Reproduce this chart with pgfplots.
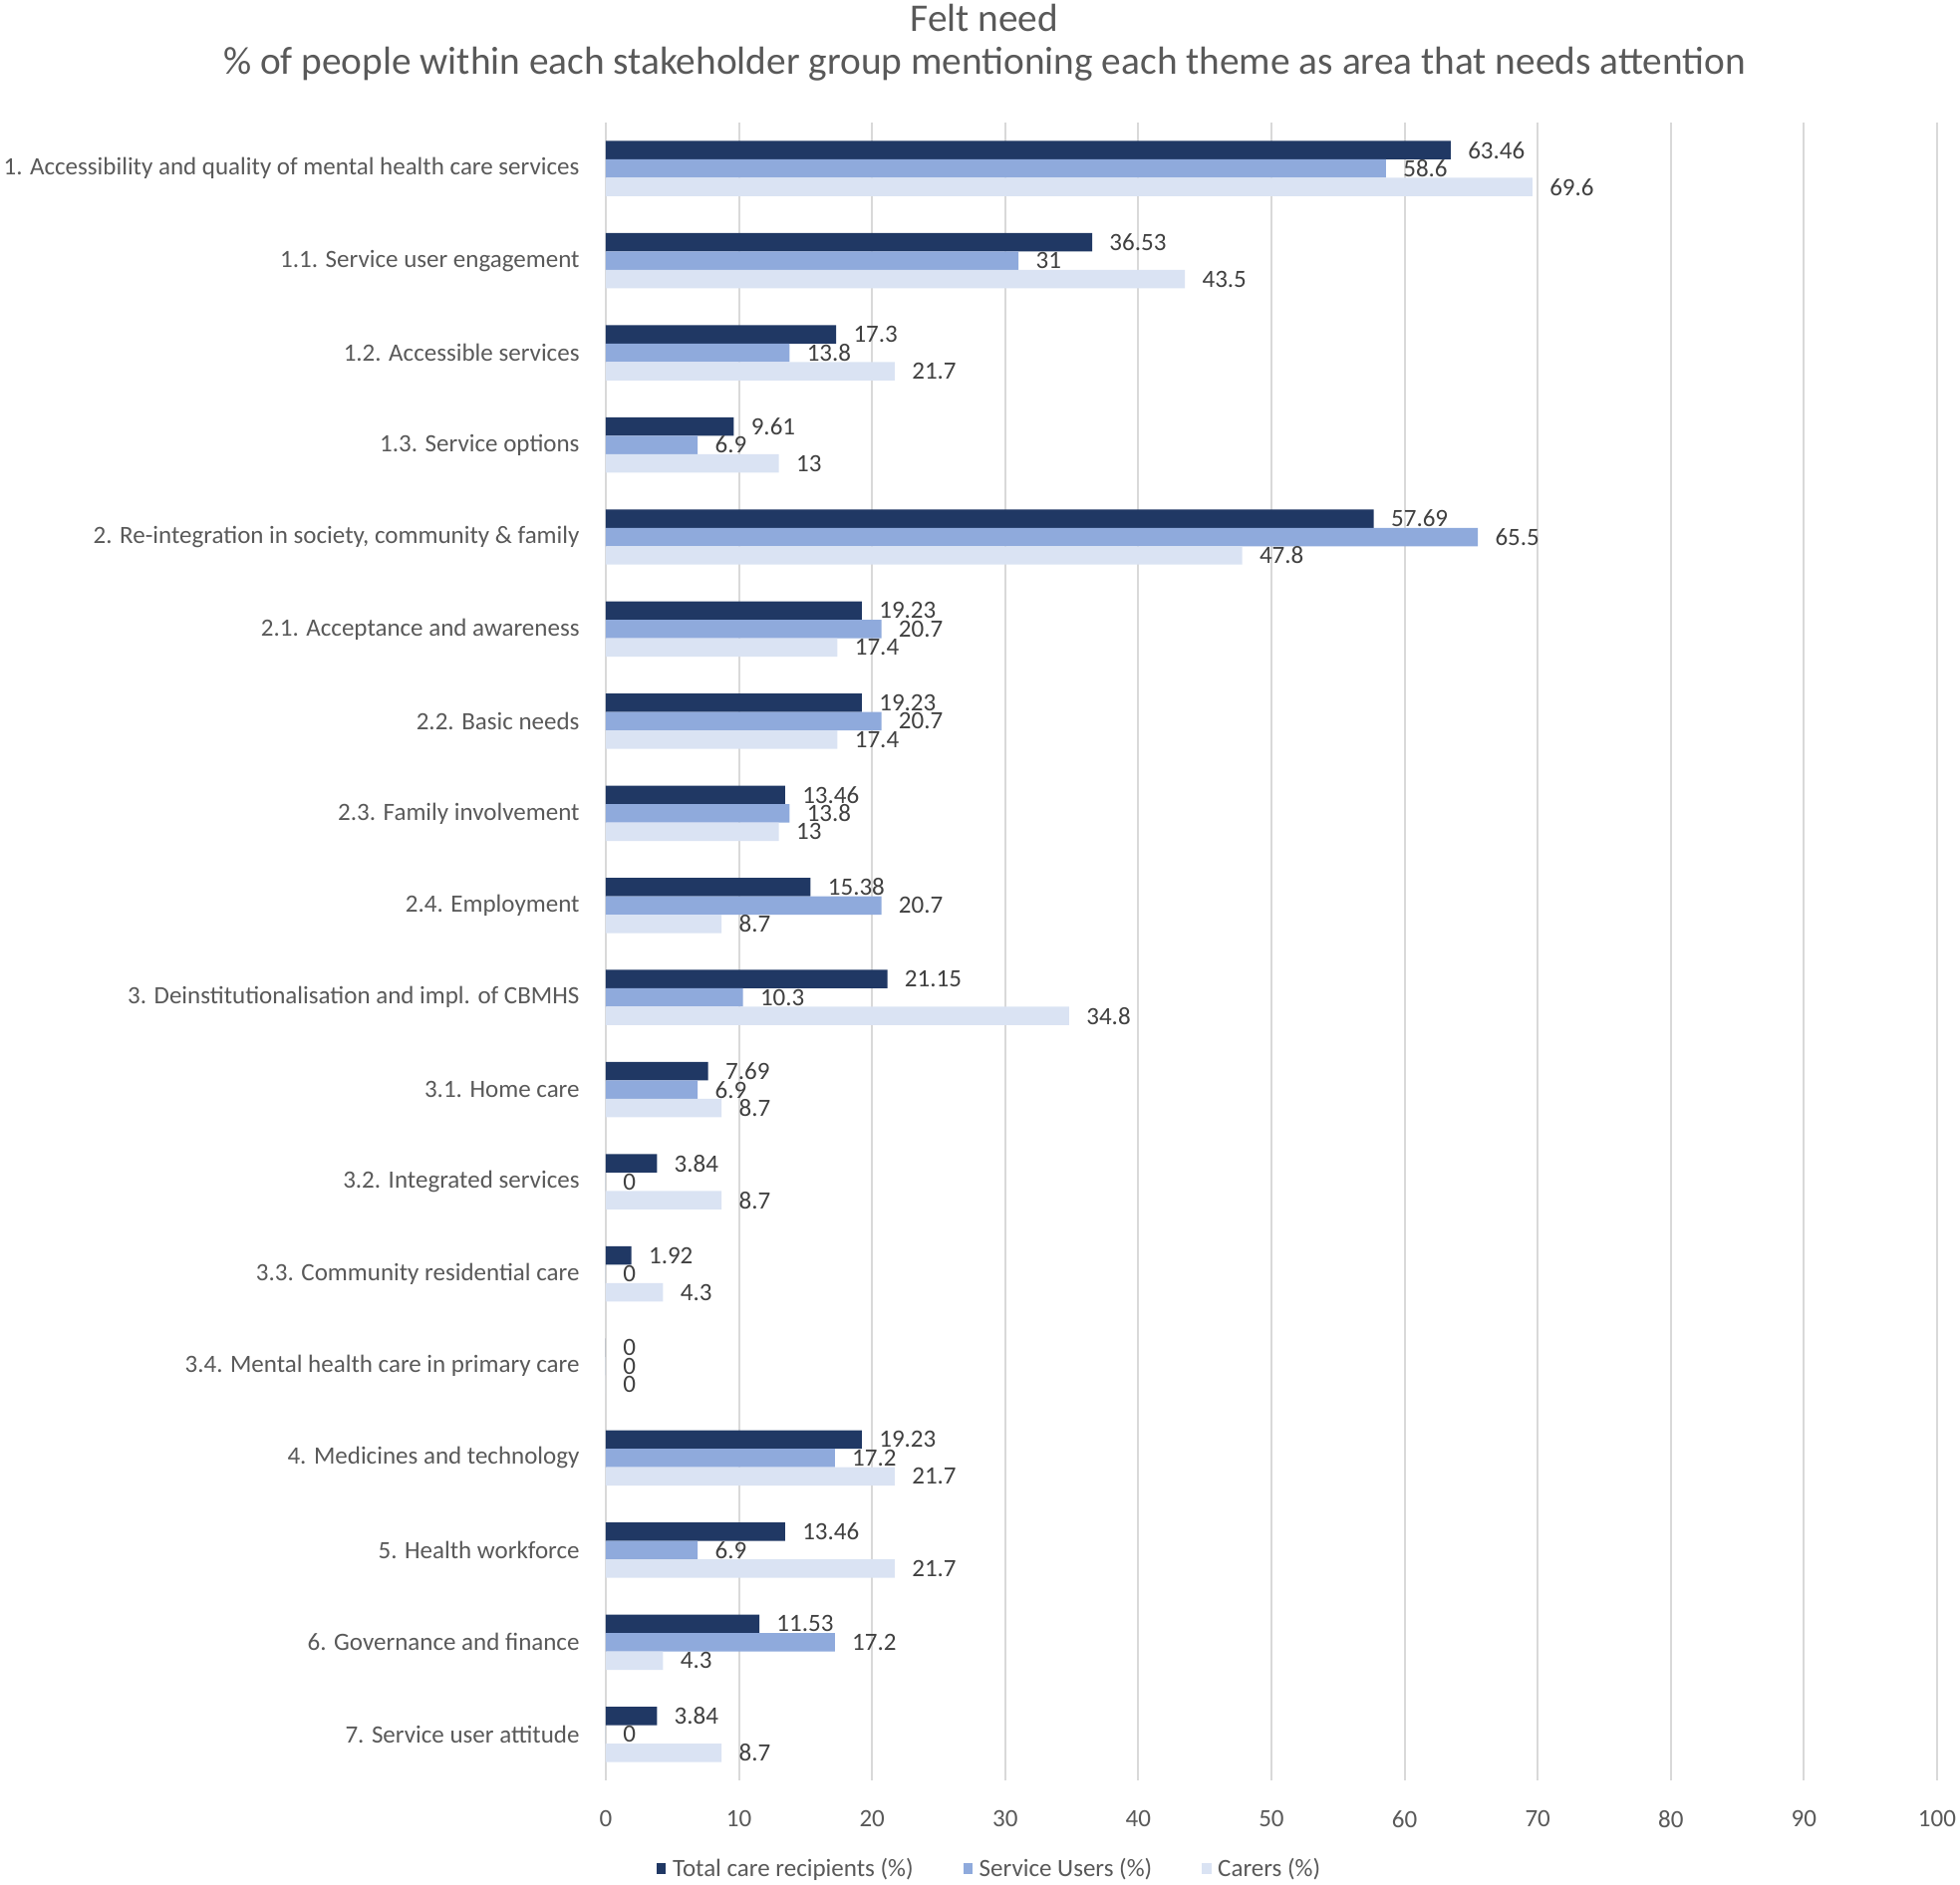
\documentclass[border=0pt]{standalone}
\usepackage{pgfplots}
\pgfplotsset{compat=1.18}
\usepackage{pgfplotstable}
\usepackage{fontspec}
\setmainfont{Carlito}
\definecolor{c1}{HTML}{203864}
\definecolor{c2}{HTML}{8FAADC}
\definecolor{c3}{HTML}{DAE3F3}
\definecolor{txt}{HTML}{595959}
\definecolor{lbl}{HTML}{404040}
\definecolor{grd}{HTML}{D9D9D9}
\newcommand\lblfont{\fontsize{7.5pt}{9pt}\selectfont}
\newcommand\ttlfont{\fontsize{11.8pt}{14pt}\selectfont}

\pgfplotstableread{
idx total users carers
0 63.46 58.6 69.6
1 36.53 31 43.5
2 17.3 13.8 21.7
3 9.61 6.9 13
4 57.69 65.5 47.8
5 19.23 20.7 17.4
6 19.23 20.7 17.4
7 13.46 13.8 13
8 15.38 20.7 8.7
9 21.15 10.3 34.8
10 7.69 6.9 8.7
11 3.84 0 8.7
12 1.92 0 4.3
13 0 0 0
14 19.23 17.2 21.7
15 13.46 6.9 21.7
16 11.53 17.2 4.3
17 3.84 0 8.7
}\data

\begin{document}
\begin{tikzpicture}
\begin{axis}[
  at={(0,0)}, anchor=south west,
  scale only axis, width=400.8pt, height=499.2pt,
  xbar, bar width=0.2,
  xmin=0, xmax=100, ymin=-0.5, ymax=17.5, y dir=reverse,
  xtick={0,10,...,100},
  ytick={0,...,17},
  yticklabels={
    {1. Accessibility and quality of mental health care services},
    {1.1. Service user engagement},
    {1.2. Accessible services},
    {1.3. Service options},
    {2. Re-integration in society, community \& family},
    {2.1. Acceptance and awareness},
    {2.2. Basic needs},
    {2.3. Family involvement},
    {2.4. Employment},
    {3. Deinstitutionalisation and impl. of CBMHS},
    {3.1. Home care},
    {3.2. Integrated services},
    {3.3. Community residential care},
    {3.4. Mental health care in primary care},
    {4. Medicines and technology},
    {5. Health workforce},
    {6. Governance and finance},
    {7. Service user attitude}},
  axis line style={draw=none},
  major tick length=0pt,
  xmajorgrids, ymajorgrids=false,
  grid style={color=grd, line width=0.6pt},
  /pgf/number format/assume math mode=true,
  tick label style={font=\lblfont, color=txt},
  xticklabel style={yshift=-5.5pt},
  yticklabel style={xshift=-4.4pt},
  clip=false,
  point meta=explicit symbolic,
  nodes near coords,
  nodes near coords style={font=\lblfont, color=lbl, anchor=west, xshift=1.7pt},
  legend columns=3,
  legend style={at={(0.29,-0.054)}, anchor=center, draw=none, fill=none,
    font=\lblfont, text=txt,
    /tikz/column 2/.style={column sep=13pt},
    /tikz/column 4/.style={column sep=13pt}},
  legend image code/.code={\fill[#1] (0pt,-1.2pt) rectangle (2.8pt,2.2pt);},
]
\addplot[fill=c1, draw=none, bar shift=-0.2] table[x=total, y=idx, meta=total] {\data};
\addplot[fill=c2, draw=none, bar shift=0] table[x=users, y=idx, meta=users] {\data};
\addplot[fill=c3, draw=none, bar shift=0.2] table[x=carers, y=idx, meta=carers] {\data};
\legend{Total care recipients (\%), Service Users (\%), Carers (\%)}
\node[font=\ttlfont, color=txt] at (rel axis cs:0.2844,1.063) {Felt need};
\node[font=\ttlfont, color=txt] at (rel axis cs:0.2844,1.0355) {\% of people within each stakeholder group mentioning each theme as area that needs attention};
\end{axis}
\pgfresetboundingbox
\path (-182.4pt,-31.5pt) rectangle (407.7pt,536.1pt);
\end{tikzpicture}
\end{document}
